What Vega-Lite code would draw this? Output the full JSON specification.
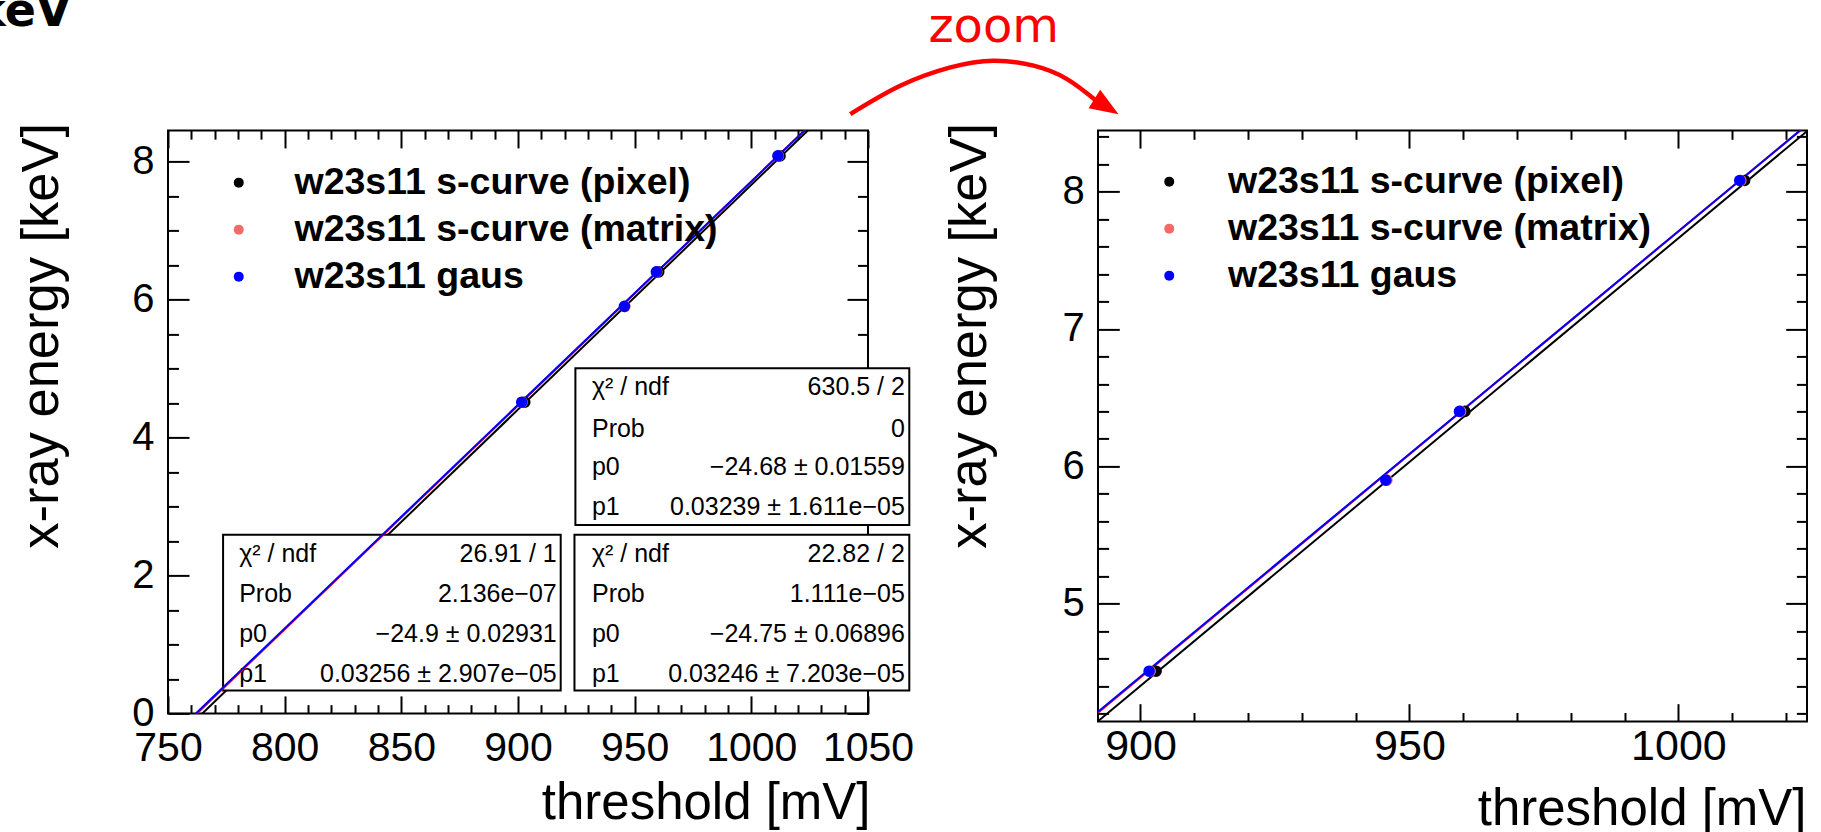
{
  "$schema": "https://vega.github.io/schema/vega-lite/v6.json",
  "background": "white",
  "padding": {"left": -26, "top": -12.6, "right": 0, "bottom": 0},
  "datasets": {
    "points": [
      {"series": "w23s11 s-curve (pixel)", "x": 902.9, "y": 4.51},
      {"series": "w23s11 s-curve (pixel)", "x": 960.3, "y": 6.40},
      {"series": "w23s11 s-curve (pixel)", "x": 1012.3, "y": 8.08},
      {"series": "w23s11 s-curve (matrix)", "x": 901.8, "y": 4.51},
      {"series": "w23s11 s-curve (matrix)", "x": 945.8, "y": 5.90},
      {"series": "w23s11 s-curve (matrix)", "x": 959.5, "y": 6.40},
      {"series": "w23s11 s-curve (matrix)", "x": 1011.6, "y": 8.08},
      {"series": "w23s11 gaus", "x": 901.6, "y": 4.51},
      {"series": "w23s11 gaus", "x": 945.6, "y": 5.90},
      {"series": "w23s11 gaus", "x": 959.3, "y": 6.40},
      {"series": "w23s11 gaus", "x": 1011.4, "y": 8.08}
    ],
    "leftfits": [
      {"series": "pixel", "x": 750, "y": -0.48},
      {"series": "pixel", "x": 1050, "y": 9.288},
      {"series": "matrix", "x": 750, "y": -0.405},
      {"series": "matrix", "x": 1050, "y": 9.333},
      {"series": "gaus", "x": 750, "y": -0.3875},
      {"series": "gaus", "x": 1050, "y": 9.3295}
    ],
    "rightfits": [
      {"series": "pixel", "x": 892.1, "y": 4.1468},
      {"series": "pixel", "x": 1023.9, "y": 8.4382},
      {"series": "matrix", "x": 892.1, "y": 4.2076},
      {"series": "matrix", "x": 1023.9, "y": 8.4858},
      {"series": "gaus", "x": 892.1, "y": 4.2151},
      {"series": "gaus", "x": 1023.9, "y": 8.4841}
    ],
    "boxes": [
      {"fit": "pixel", "x": 773.6, "x2": 918.3, "y": 0.33, "y2": 2.59},
      {"fit": "matrix", "x": 924.2, "x2": 1067.7, "y": 0.33, "y2": 2.59},
      {"fit": "gaus", "x": 924.6, "x2": 1067.7, "y": 2.731, "y2": 5.004}
    ],
    "boxtext": [
      {"col": "name", "x": 780.5, "y": 2.313, "text": "χ² / ndf"},
      {"col": "name", "x": 780.5, "y": 1.727, "text": "Prob"},
      {"col": "name", "x": 780.5, "y": 1.148, "text": "p0"},
      {"col": "name", "x": 780.5, "y": 0.568, "text": "p1"},
      {"col": "value", "x": 916.6, "y": 2.313, "text": "26.91 / 1"},
      {"col": "value", "x": 916.6, "y": 1.727, "text": "2.136e−07"},
      {"col": "value", "x": 916.6, "y": 1.148, "text": "−24.9 ± 0.02931"},
      {"col": "value", "x": 916.6, "y": 0.568, "text": "0.03256 ± 2.907e−05"},
      {"col": "name", "x": 931.7, "y": 2.313, "text": "χ² / ndf"},
      {"col": "name", "x": 931.7, "y": 1.727, "text": "Prob"},
      {"col": "name", "x": 931.7, "y": 1.148, "text": "p0"},
      {"col": "name", "x": 931.7, "y": 0.568, "text": "p1"},
      {"col": "value", "x": 1065.8, "y": 2.313, "text": "22.82 / 2"},
      {"col": "value", "x": 1065.8, "y": 1.727, "text": "1.111e−05"},
      {"col": "value", "x": 1065.8, "y": 1.148, "text": "−24.75 ± 0.06896"},
      {"col": "value", "x": 1065.8, "y": 0.568, "text": "0.03246 ± 7.203e−05"},
      {"col": "name", "x": 931.7, "y": 4.733, "text": "χ² / ndf"},
      {"col": "name", "x": 931.7, "y": 4.126, "text": "Prob"},
      {"col": "name", "x": 931.7, "y": 3.568, "text": "p0"},
      {"col": "name", "x": 931.7, "y": 2.985, "text": "p1"},
      {"col": "value", "x": 1065.8, "y": 4.733, "text": "630.5 / 2"},
      {"col": "value", "x": 1065.8, "y": 4.126, "text": "0"},
      {"col": "value", "x": 1065.8, "y": 3.568, "text": "−24.68 ± 0.01559"},
      {"col": "value", "x": 1065.8, "y": 2.985, "text": "0.03239 ± 1.611e−05"}
    ],
    "labels": [
      {"kind": "kev", "x": 708.6, "y": 9.958, "text": "keV"},
      {"kind": "zoom", "x": 1103.9, "y": 9.726, "text": "zoom"}
    ],
    "arrow": [
      {"i": 0, "x": 1042.4, "y": 8.687},
      {"i": 1, "x": 1063.8, "y": 9.098},
      {"i": 2, "x": 1085.3, "y": 9.364},
      {"i": 3, "x": 1103.8, "y": 9.461},
      {"i": 4, "x": 1121.0, "y": 9.388},
      {"i": 5, "x": 1135.3, "y": 9.194},
      {"i": 6, "x": 1148.2, "y": 8.87}
    ],
    "arrowhead": [
      {"x": 1152.2, "y": 8.795}
    ]
  },
  "spacing": 230,
  "bounds": "flush",
  "resolve": {
    "scale": {"x": "independent", "y": "independent", "color": "independent"},
    "legend": {"color": "independent"}
  },
  "hconcat": [
    {
      "width": 700,
      "height": 583,
      "resolve": {"axis": {"x": "independent", "y": "independent"}},
      "layer": [
        {
          "data": {"name": "leftfits"},
          "transform": [{"filter": "datum.series === 'pixel'"}],
          "mark": {"type": "line", "clip": true, "strokeWidth": 2, "color": "#000000"},
          "encoding": {
            "x": {"field": "x", "type": "quantitative", "scale": {"domain": [750, 1050], "nice": false, "zero": false},
              "axis": {"orient": "bottom", "tickCount": 200,
                "values": [750,760,770,780,790,800,810,820,830,840,850,860,870,880,890,900,910,920,930,940,950,960,970,980,990,1000,1010,1020,1030,1040,1050],
                "labelExpr": "datum.value % 50 === 0 ? '' + datum.value : ''",
                "tickSize": {"condition": {"test": "datum.value % 50 === 0", "value": -17.5}, "value": -8.75},
                "labelPadding": 33, "labelFontSize": 41,
                "title": "threshold [mV]", "titleFontSize": 51, "titleAnchor": "end", "titleAlign": "right",
                "titleBaseline": "alphabetic", "titleX": 702, "titleY": 105}},
            "y": {"field": "y", "type": "quantitative", "scale": {"domain": [0, 8.45], "nice": false, "zero": false},
              "axis": {"orient": "left", "tickCount": 200,
                "values": [0,0.5,1,1.5,2,2.5,3,3.5,4,4.5,5,5.5,6,6.5,7,7.5,8],
                "labelExpr": "datum.value % 2 === 0 ? '' + datum.value : ''",
                "tickSize": {"condition": {"test": "datum.value % 2 === 0", "value": -21}, "value": -10.5},
                "labelPadding": 35,
                "title": "x-ray energy [keV]", "titleFontSize": 52.5, "titleAngle": 270, "titleAnchor": "end",
                "titleAlign": "right", "titleBaseline": "alphabetic", "titleX": -110.3, "titleY": -8}}
          }
        },
        {
          "data": {"name": "boxes"},
          "mark": {"type": "rect", "fill": "white", "stroke": "black", "strokeWidth": 2},
          "encoding": {
            "x": {"field": "x", "type": "quantitative", "scale": {"domain": [750, 1050], "nice": false, "zero": false}, "axis": null},
            "x2": {"field": "x2"},
            "y": {"field": "y", "type": "quantitative", "scale": {"domain": [0, 8.45], "nice": false, "zero": false}, "axis": null},
            "y2": {"field": "y2"}
          }
        },
        {
          "data": {"name": "boxtext"},
          "transform": [{"filter": "datum.col === 'name'"}],
          "mark": {"type": "text", "align": "left", "baseline": "middle", "font": "Liberation Sans", "fontSize": 25, "color": "black"},
          "encoding": {
            "x": {"field": "x", "type": "quantitative", "scale": {"domain": [750, 1050], "nice": false, "zero": false}, "axis": null},
            "y": {"field": "y", "type": "quantitative", "scale": {"domain": [0, 8.45], "nice": false, "zero": false}, "axis": null},
            "text": {"field": "text"}
          }
        },
        {
          "data": {"name": "boxtext"},
          "transform": [{"filter": "datum.col === 'value'"}],
          "mark": {"type": "text", "align": "right", "baseline": "middle", "font": "Liberation Sans", "fontSize": 25, "color": "black"},
          "encoding": {
            "x": {"field": "x", "type": "quantitative", "scale": {"domain": [750, 1050], "nice": false, "zero": false}, "axis": null},
            "y": {"field": "y", "type": "quantitative", "scale": {"domain": [0, 8.45], "nice": false, "zero": false}, "axis": null},
            "text": {"field": "text"}
          }
        },
        {
          "data": {"name": "leftfits"},
          "transform": [{"filter": "datum.series === 'matrix'"}],
          "mark": {"type": "line", "clip": true, "strokeWidth": 2, "color": "#ff0000"},
          "encoding": {
            "x": {"field": "x", "type": "quantitative", "scale": {"domain": [750, 1050], "nice": false, "zero": false}, "axis": null},
            "y": {"field": "y", "type": "quantitative", "scale": {"domain": [0, 8.45], "nice": false, "zero": false}, "axis": null}
          }
        },
        {
          "data": {"name": "leftfits"},
          "transform": [{"filter": "datum.series === 'gaus'"}],
          "mark": {"type": "line", "clip": true, "strokeWidth": 2, "color": "#0000ff"},
          "encoding": {
            "x": {"field": "x", "type": "quantitative", "scale": {"domain": [750, 1050], "nice": false, "zero": false}, "axis": null},
            "y": {"field": "y", "type": "quantitative", "scale": {"domain": [0, 8.45], "nice": false, "zero": false}, "axis": null}
          }
        },
        {
          "data": {"name": "points"},
          "mark": {"type": "circle", "size": 135, "opacity": 1},
          "encoding": {
            "x": {"field": "x", "type": "quantitative", "scale": {"domain": [750, 1050], "nice": false, "zero": false},
              "axis": {"orient": "top", "labels": false, "title": null, "tickCount": 200,
                "values": [750,760,770,780,790,800,810,820,830,840,850,860,870,880,890,900,910,920,930,940,950,960,970,980,990,1000,1010,1020,1030,1040,1050],
                "tickSize": {"condition": {"test": "datum.value % 50 === 0", "value": -17.5}, "value": -8.75}}},
            "y": {"field": "y", "type": "quantitative", "scale": {"domain": [0, 8.45], "nice": false, "zero": false},
              "axis": {"orient": "right", "labels": false, "title": null, "tickCount": 200,
                "values": [0,0.5,1,1.5,2,2.5,3,3.5,4,4.5,5,5.5,6,6.5,7,7.5,8],
                "tickSize": {"condition": {"test": "datum.value % 2 === 0", "value": -21}, "value": -10.5}}},
            "color": {"field": "series", "type": "nominal",
              "scale": {"domain": ["w23s11 s-curve (pixel)", "w23s11 s-curve (matrix)", "w23s11 gaus"], "range": ["#000000", "#f46a6a", "#0000ff"]},
              "legend": {"orient": "none", "legendX": 52, "legendY": 33.5, "title": null, "padding": 0,
                "labelFont": "Liberation Sans", "labelFontWeight": "bold", "labelFontSize": 37.5, "labelColor": "black", "labelLimit": 0,
                "symbolType": "circle", "symbolSize": 100, "symbolOpacity": 1, "symbolStrokeWidth": 0,
                "rowPadding": 8, "labelOffset": 37}}
          }
        },
        {
          "data": {"name": "labels"},
          "transform": [{"filter": "datum.kind === 'kev'"}],
          "mark": {"type": "text", "align": "right", "baseline": "alphabetic", "font": "DejaVu Sans", "fontWeight": "bold", "fontSize": 46, "color": "black"},
          "encoding": {
            "x": {"field": "x", "type": "quantitative", "scale": {"domain": [750, 1050], "nice": false, "zero": false}, "axis": null},
            "y": {"field": "y", "type": "quantitative", "scale": {"domain": [0, 8.45], "nice": false, "zero": false}, "axis": null},
            "text": {"field": "text"}
          }
        },
        {
          "data": {"name": "labels"},
          "transform": [{"filter": "datum.kind === 'zoom'"}],
          "mark": {"type": "text", "align": "center", "baseline": "alphabetic", "font": "DejaVu Sans", "fontSize": 48, "color": "#ff0000"},
          "encoding": {
            "x": {"field": "x", "type": "quantitative", "scale": {"domain": [750, 1050], "nice": false, "zero": false}, "axis": null},
            "y": {"field": "y", "type": "quantitative", "scale": {"domain": [0, 8.45], "nice": false, "zero": false}, "axis": null},
            "text": {"field": "text"}
          }
        },
        {
          "data": {"name": "arrow"},
          "mark": {"type": "line", "color": "#ff0000", "strokeWidth": 4.5, "interpolate": "natural", "strokeCap": "butt"},
          "encoding": {
            "x": {"field": "x", "type": "quantitative", "scale": {"domain": [750, 1050], "nice": false, "zero": false}, "axis": null},
            "y": {"field": "y", "type": "quantitative", "scale": {"domain": [0, 8.45], "nice": false, "zero": false}, "axis": null},
            "order": {"field": "i", "type": "quantitative"}
          }
        },
        {
          "data": {"name": "arrowhead"},
          "mark": {"type": "point", "shape": "M1,0L-1,-0.77L-1,0.77Z", "size": 818, "angle": 32, "filled": true, "fill": "#ff0000", "strokeWidth": 0, "opacity": 1},
          "encoding": {
            "x": {"field": "x", "type": "quantitative", "scale": {"domain": [750, 1050], "nice": false, "zero": false}, "axis": null},
            "y": {"field": "y", "type": "quantitative", "scale": {"domain": [0, 8.45], "nice": false, "zero": false}, "axis": null}
          }
        }
      ]
    },
    {
      "width": 709,
      "height": 591,
      "resolve": {"axis": {"x": "independent", "y": "independent"}},
      "layer": [
        {
          "data": {"name": "rightfits"},
          "transform": [{"filter": "datum.series === 'pixel'"}],
          "mark": {"type": "line", "clip": true, "strokeWidth": 2, "color": "#000000"},
          "encoding": {
            "x": {"field": "x", "type": "quantitative", "scale": {"domain": [892.1, 1023.9], "nice": false, "zero": false},
              "axis": {"orient": "bottom", "tickCount": 200,
                "values": [900,910,920,930,940,950,960,970,980,990,1000,1010,1020],
                "labelExpr": "datum.value % 50 === 0 ? '' + datum.value : ''",
                "tickSize": {"condition": {"test": "datum.value % 50 === 0", "value": -17.7}, "value": -8.9},
                "labelPadding": 22, "labelFontSize": 43,
                "title": "threshold [mV]", "titleFontSize": 51, "titleAnchor": "end", "titleAlign": "right",
                "titleBaseline": "alphabetic", "titleX": 708, "titleY": 102.7}},
            "y": {"field": "y", "type": "quantitative", "scale": {"domain": [4.145, 8.444], "nice": false, "zero": false},
              "axis": {"orient": "left", "tickCount": 200,
                "values": [4.2,4.4,4.6,4.8,5,5.2,5.4,5.6,5.8,6,6.2,6.4,6.6,6.8,7,7.2,7.4,7.6,7.8,8,8.2,8.4],
                "labelExpr": "(datum.value === 5 || datum.value === 6 || datum.value === 7 || datum.value === 8) ? '' + datum.value : ''",
                "tickSize": {"condition": {"test": "datum.value === 5 || datum.value === 6 || datum.value === 7 || datum.value === 8", "value": -21.3}, "value": -10.6},
                "labelPadding": 35,
                "title": "x-ray energy [keV]", "titleFontSize": 52.5, "titleAngle": 270, "titleAnchor": "end",
                "titleAlign": "right", "titleBaseline": "alphabetic", "titleX": -112.7, "titleY": -8}}
          }
        },
        {
          "data": {"name": "rightfits"},
          "transform": [{"filter": "datum.series === 'matrix'"}],
          "mark": {"type": "line", "clip": true, "strokeWidth": 2, "color": "#ff0000"},
          "encoding": {
            "x": {"field": "x", "type": "quantitative", "scale": {"domain": [892.1, 1023.9], "nice": false, "zero": false}, "axis": null},
            "y": {"field": "y", "type": "quantitative", "scale": {"domain": [4.145, 8.444], "nice": false, "zero": false}, "axis": null}
          }
        },
        {
          "data": {"name": "rightfits"},
          "transform": [{"filter": "datum.series === 'gaus'"}],
          "mark": {"type": "line", "clip": true, "strokeWidth": 2, "color": "#0000ff"},
          "encoding": {
            "x": {"field": "x", "type": "quantitative", "scale": {"domain": [892.1, 1023.9], "nice": false, "zero": false}, "axis": null},
            "y": {"field": "y", "type": "quantitative", "scale": {"domain": [4.145, 8.444], "nice": false, "zero": false}, "axis": null}
          }
        },
        {
          "data": {"name": "points"},
          "mark": {"type": "circle", "size": 135, "opacity": 1, "clip": true},
          "encoding": {
            "x": {"field": "x", "type": "quantitative", "scale": {"domain": [892.1, 1023.9], "nice": false, "zero": false},
              "axis": {"orient": "top", "labels": false, "title": null, "tickCount": 200,
                "values": [900,910,920,930,940,950,960,970,980,990,1000,1010,1020],
                "tickSize": {"condition": {"test": "datum.value % 50 === 0", "value": -17.7}, "value": -8.9}}},
            "y": {"field": "y", "type": "quantitative", "scale": {"domain": [4.145, 8.444], "nice": false, "zero": false},
              "axis": {"orient": "right", "labels": false, "title": null, "tickCount": 200,
                "values": [4.2,4.4,4.6,4.8,5,5.2,5.4,5.6,5.8,6,6.2,6.4,6.6,6.8,7,7.2,7.4,7.6,7.8,8,8.2,8.4],
                "tickSize": {"condition": {"test": "datum.value === 5 || datum.value === 6 || datum.value === 7 || datum.value === 8", "value": -21.3}, "value": -10.6}}},
            "color": {"field": "series", "type": "nominal",
              "scale": {"domain": ["w23s11 s-curve (pixel)", "w23s11 s-curve (matrix)", "w23s11 gaus"], "range": ["#000000", "#f46a6a", "#0000ff"]},
              "legend": {"orient": "none", "legendX": 52.5, "legendY": 32.5, "title": null, "padding": 0,
                "labelFont": "Liberation Sans", "labelFontWeight": "bold", "labelFontSize": 37.5, "labelColor": "black", "labelLimit": 0,
                "symbolType": "circle", "symbolSize": 100, "symbolOpacity": 1, "symbolStrokeWidth": 0,
                "rowPadding": 8, "labelOffset": 40}}
          }
        }
      ]
    }
  ],
  "config": {
    "view": {"stroke": "#000000", "strokeWidth": 2},
    "axis": {
      "labelFont": "Liberation Sans", "labelFontSize": 40, "labelColor": "#000000",
      "titleFont": "Liberation Sans", "titleFontWeight": "normal", "titleColor": "#000000",
      "tickColor": "#000000", "tickWidth": 2, "domain": false, "grid": false,
      "labelOverlap": false, "labelFlush": false, "labelBound": false
    }
  }
}
